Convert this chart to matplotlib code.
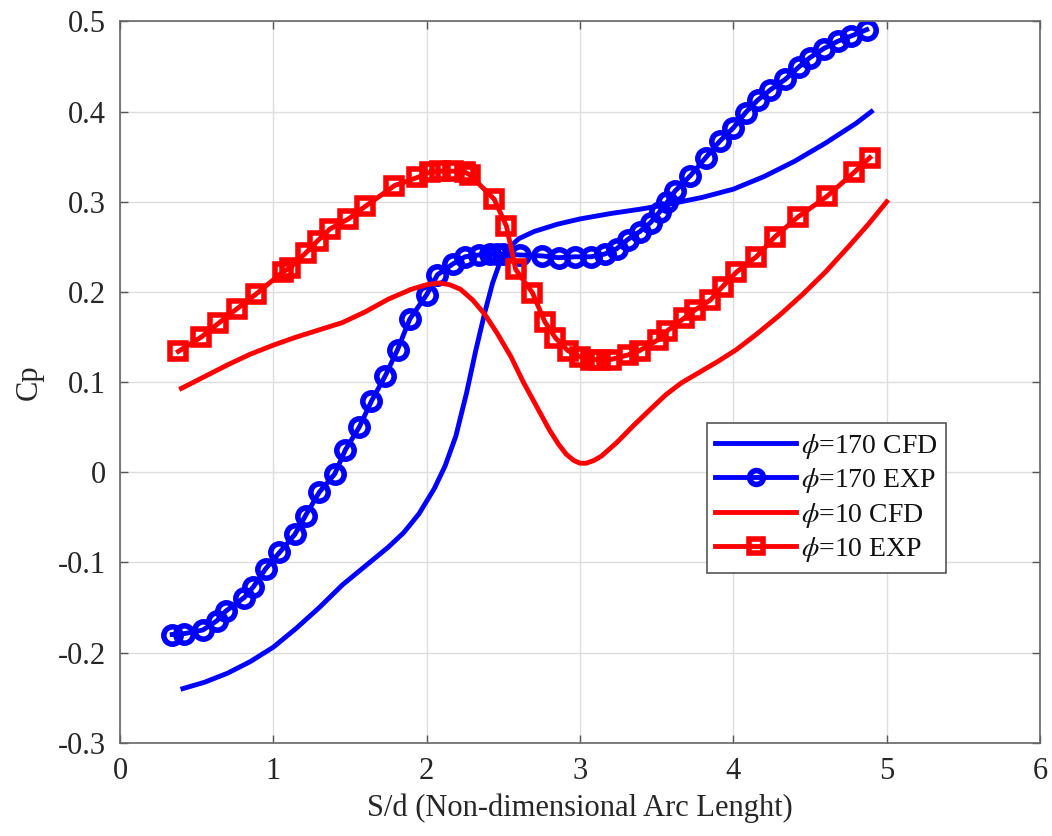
import matplotlib
matplotlib.use("Agg")
import matplotlib.pyplot as plt

plt.rcParams['font.family'] = ['Liberation Serif', 'DejaVu Serif']
plt.rcParams['mathtext.fontset'] = 'stix'
plt.rcParams['axes.unicode_minus'] = False

# Pressure coefficient along the non-dimensional arc length
s_cfd170 = [0.41, 0.55, 0.70, 0.85, 1.00, 1.15, 1.30, 1.45, 1.60, 1.75, 1.85, 1.95,
            2.05, 2.12, 2.19, 2.26, 2.32, 2.38, 2.43, 2.48, 2.53, 2.60, 2.70, 2.85,
            3.00, 3.20, 3.40, 3.60, 3.80, 4.00, 4.20, 4.40, 4.60, 4.80, 4.90]
cp_cfd170 = [-0.240, -0.233, -0.223, -0.210, -0.194, -0.173, -0.150, -0.125, -0.104,
             -0.083, -0.067, -0.046, -0.018, 0.007, 0.040, 0.088, 0.135, 0.178, 0.210,
             0.234, 0.248, 0.259, 0.267, 0.275, 0.281, 0.287, 0.292, 0.298, 0.305,
             0.314, 0.328, 0.345, 0.365, 0.387, 0.400]

s_exp170 = [0.34, 0.42, 0.54, 0.63, 0.69, 0.81, 0.87, 0.95, 1.04, 1.14, 1.21, 1.30,
            1.40, 1.47, 1.56, 1.64, 1.73, 1.81, 1.89, 2.00, 2.07, 2.17, 2.25, 2.34,
            2.41, 2.46, 2.50, 2.61, 2.75, 2.86, 2.97, 3.07, 3.16, 3.24, 3.31, 3.39,
            3.46, 3.52, 3.57, 3.62, 3.72, 3.82, 3.91, 4.00, 4.08, 4.16, 4.24, 4.34,
            4.43, 4.50, 4.59, 4.68, 4.77, 4.87]
cp_exp170 = [-0.180, -0.179, -0.175, -0.165, -0.154, -0.139, -0.127, -0.107, -0.089,
             -0.069, -0.048, -0.022, -0.002, 0.025, 0.050, 0.079, 0.107, 0.136, 0.170,
             0.197, 0.219, 0.231, 0.239, 0.241, 0.242, 0.242, 0.242, 0.241, 0.240,
             0.238, 0.239, 0.239, 0.242, 0.248, 0.258, 0.267, 0.277, 0.289, 0.300,
             0.312, 0.329, 0.349, 0.367, 0.382, 0.399, 0.413, 0.424, 0.436, 0.450,
             0.460, 0.470, 0.478, 0.484, 0.491]

s_cfd10 = [0.40, 0.55, 0.70, 0.85, 1.00, 1.15, 1.30, 1.45, 1.60, 1.75, 1.90, 2.00,
           2.08, 2.15, 2.22, 2.30, 2.38, 2.46, 2.55, 2.63, 2.72, 2.80, 2.86, 2.91,
           2.96, 3.00, 3.04, 3.09, 3.14, 3.24, 3.35, 3.46, 3.56, 3.66, 3.78, 3.90,
           4.02, 4.15, 4.30, 4.45, 4.60, 4.75, 4.88, 5.00]
cp_cfd10 = [0.093, 0.106, 0.119, 0.131, 0.141, 0.150, 0.158, 0.166, 0.178, 0.192,
            0.203, 0.208, 0.210, 0.208, 0.203, 0.191, 0.175, 0.154, 0.128, 0.100,
            0.072, 0.047, 0.031, 0.020, 0.013, 0.010, 0.010, 0.013, 0.018, 0.033,
            0.052, 0.070, 0.086, 0.099, 0.111, 0.123, 0.136, 0.153, 0.174, 0.197,
            0.222, 0.250, 0.275, 0.300]

s_exp10 = [0.38, 0.53, 0.64, 0.76, 0.89, 1.06, 1.11, 1.21, 1.29, 1.37, 1.49, 1.60,
           1.79, 1.94, 2.02, 2.09, 2.17, 2.25, 2.28, 2.44, 2.52, 2.58, 2.69, 2.77,
           2.84, 2.92, 3.00, 3.07, 3.13, 3.20, 3.31, 3.39, 3.51, 3.57, 3.68, 3.75,
           3.85, 3.93, 4.02, 4.15, 4.27, 4.42, 4.61, 4.79, 4.89]
cp_exp10 = [0.134, 0.150, 0.165, 0.181, 0.198, 0.222, 0.227, 0.243, 0.257, 0.270,
            0.281, 0.295, 0.318, 0.327, 0.333, 0.334, 0.334, 0.333, 0.330, 0.303,
            0.273, 0.225, 0.199, 0.167, 0.149, 0.135, 0.128, 0.125, 0.125, 0.125,
            0.130, 0.135, 0.147, 0.157, 0.171, 0.180, 0.191, 0.206, 0.222, 0.239,
            0.261, 0.283, 0.306, 0.333, 0.349]

x_ticks = [0, 1, 2, 3, 4, 5, 6]
y_ticks = [-0.3, -0.2, -0.1, 0, 0.1, 0.2, 0.3, 0.4, 0.5]
y_tick_labels = ['-0.3', '-0.2', '-0.1', '0', '0.1', '0.2', '0.3', '0.4', '0.5']

fig = plt.figure(figsize=(10.52, 8.36), dpi=100)
ax = fig.add_axes([0.1141, 0.1116, 0.8745, 0.8627])

lw = 3.5
ax.plot(s_cfd170, cp_cfd170, color='#0000ff', lw=lw, label=r'$\phi$=170 CFD',
        solid_joinstyle='round')
ax.plot(s_exp170, cp_exp170, color='#0000ff', lw=lw, marker='o', markersize=12.5,
        markerfacecolor='none', markeredgewidth=4.0, label=r'$\phi$=170 EXP')
ax.plot(s_cfd10, cp_cfd10, color='#ff0000', lw=lw, label=r'$\phi$=10 CFD',
        solid_joinstyle='round')
ax.plot(s_exp10, cp_exp10, color='#ff0000', lw=lw, marker='s', markersize=11,
        markerfacecolor='none', markeredgewidth=4.0, label=r'$\phi$=10 EXP')

ax.set_xlim(0, 6)
ax.set_ylim(-0.3, 0.5)
ax.set_xticks(x_ticks)
ax.set_yticks(y_ticks)
ax.set_yticklabels(y_tick_labels)
ax.grid(True, color='#dedede', lw=1.0)
ax.set_axisbelow(True)
ax.tick_params(direction='in', length=6, width=1.0, color='#555555',
               labelsize=22, top=True, right=True, pad=10, labelcolor='#262626')
for sp in ax.spines.values():
    sp.set_color('#666666')
    sp.set_linewidth(1.2)

ax.set_xlabel('S/d (Non-dimensional Arc Lenght)', fontsize=22, color='#262626',
              labelpad=6)
ax.set_ylabel('Cp', fontsize=22, color='#262626', labelpad=10)

leg = ax.legend(loc='upper left', bbox_to_anchor=(0.638, 0.443), fontsize=20,
                frameon=True, fancybox=False, edgecolor='#555555', framealpha=1,
                handlelength=2.9, handletextpad=0.2, labelspacing=0.2,
                borderpad=0.3, borderaxespad=0)
leg.get_frame().set_linewidth(1.2)
for line in leg.get_lines():
    line.set_markersize(10)
for t in leg.get_texts():
    t.set_color('#111111')

fig.savefig('out.png', dpi=100)
